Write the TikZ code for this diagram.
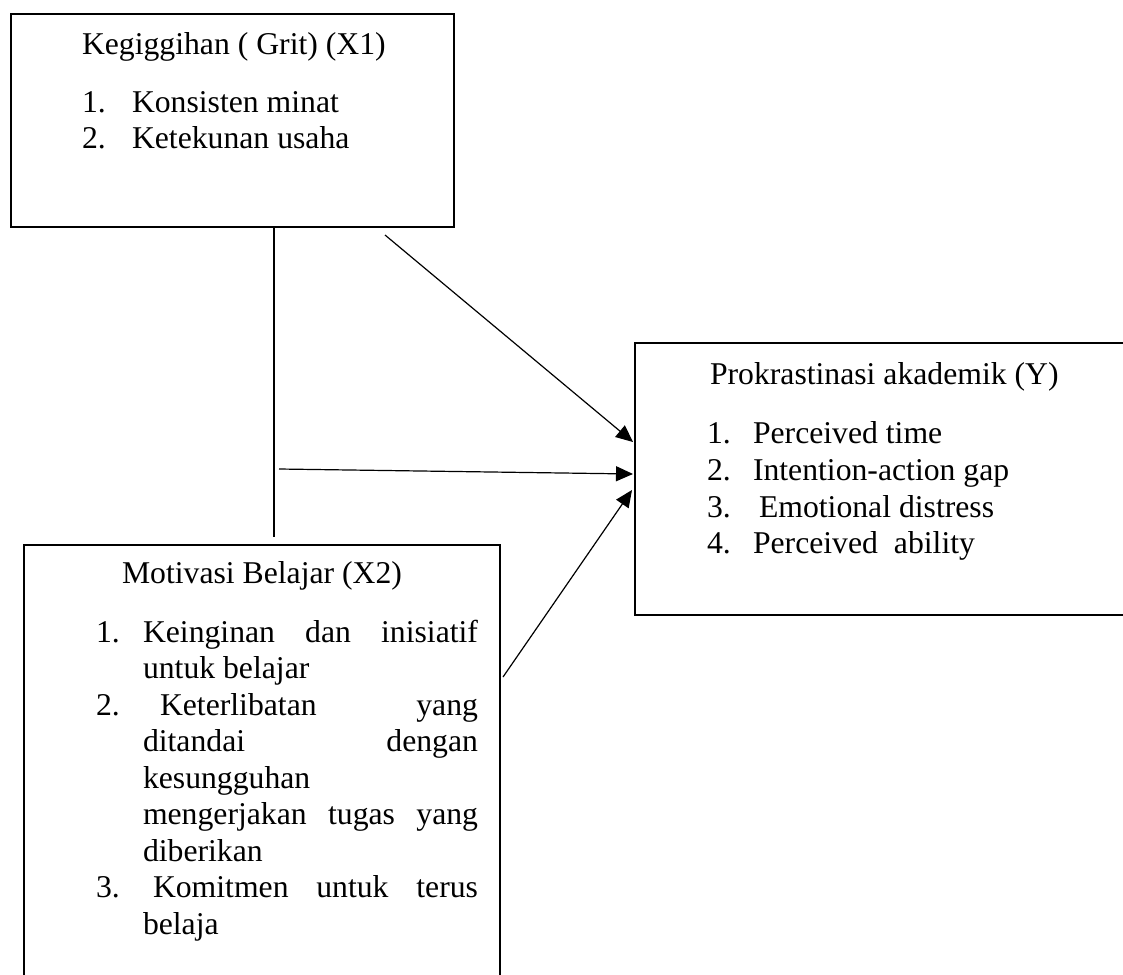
\documentclass[tikz,border=0pt]{standalone}
\usepackage{fontspec}
\setmainfont{Liberation Serif}
\usetikzlibrary{arrows.meta}
\begin{document}
\begin{tikzpicture}[x=1pt,y=-1pt,
  box/.style={draw=black,line width=2.4pt,anchor=north west,inner sep=0pt,outer sep=0pt},
  txt/.style={anchor=base west,inner sep=0pt,outer sep=0pt,font=\fontsize{31.7}{36.5}\selectfont},
  link/.style={draw=black,line width=1.2pt},
  arr/.style={link,-{Triangle[length=17pt,width=15pt]}}]
\useasboundingbox (0,0) rectangle (1123,974);
\fill[white] (0,0) rectangle (1123,974);
\clip (0,0) rectangle (1123,974);

% boxes
\node[box,minimum width=443pt,minimum height=213pt] (X1) at (11,14) {};
\node[box,minimum width=500pt,minimum height=272pt] (Y) at (635,343) {};
\node[box,minimum width=476pt,minimum height=450pt] (X2) at (24,545) {};

% X1 text
\node[txt] (x1t) at (82,55) {Kegiggihan ( Grit) (X1)};
\node[txt] (x1n1) at (82,112) {1.};
\node[txt] (x1i1) at (132,112) {Konsisten minat};
\node[txt] (x1n2) at (82,148.5) {2.};
\node[txt] (x1i2) at (132,148.5) {Ketekunan usaha};

% Y text
\node[txt] (yt) at (710,384) {Prokrastinasi akademik (Y)};
\node[txt] (yn1) at (707,443) {1.};
\node[txt] (yi1) at (753,443) {Perceived time};
\node[txt] (yn2) at (707,480) {2.};
\node[txt] (yi2) at (753,480) {Intention-action gap};
\node[txt] (yn3) at (707,517) {3.};
\node[txt] (yi3) at (759,517) {Emotional distress};
\node[txt] (yn4) at (707,553) {4.};
\node[txt] (yi4) at (753,553) {Perceived\hspace{16pt}ability};

% X2 text
\node[txt] (x2t) at (122,583) {Motivasi Belajar (X2)};
\node[txt] (x2n1) at (96,642) {1.};
\node[txt] (x2l1) at (143,642) {\hbox to 335pt{Keinginan\hfill dan\hfill inisiatif}};
\node[txt] (x2l2) at (143,678.5) {untuk belajar};
\node[txt] (x2n2) at (96,715) {2.};
\node[txt] (x2l3) at (160,715) {\hbox to 318pt{Keterlibatan\hfill yang}};
\node[txt] (x2l4) at (143,751.5) {\hbox to 335pt{ditandai\hfill dengan}};
\node[txt] (x2l5) at (143,788) {kesungguhan};
\node[txt] (x2l6) at (143,824.5) {\hbox to 335pt{mengerjakan\hfill tugas\hfill yang}};
\node[txt] (x2l7) at (143,861) {diberikan};
\node[txt] (x2n3) at (96,897.5) {3.};
\node[txt] (x2l8) at (153,897.5) {\hbox to 325pt{Komitmen\hfill untuk\hfill terus}};
\node[txt] (x2l9) at (143,934) {belaja};

% connectors
\coordinate (v1) at (274,227);
\coordinate (v2) at (274,537);
\coordinate (a1s) at (385,235);
\coordinate (a1e) at (633,442);
\coordinate (a2s) at (279,469);
\coordinate (a2e) at (633,474);
\coordinate (a3s) at (503,677);
\coordinate (a3e) at (632,490);
\draw[link] (v1) -- (v2);
\draw[arr] (a1s) -- (a1e);
\draw[arr] (a2s) -- (a2e);
\draw[arr] (a3s) -- (a3e);
\end{tikzpicture}
\end{document}
